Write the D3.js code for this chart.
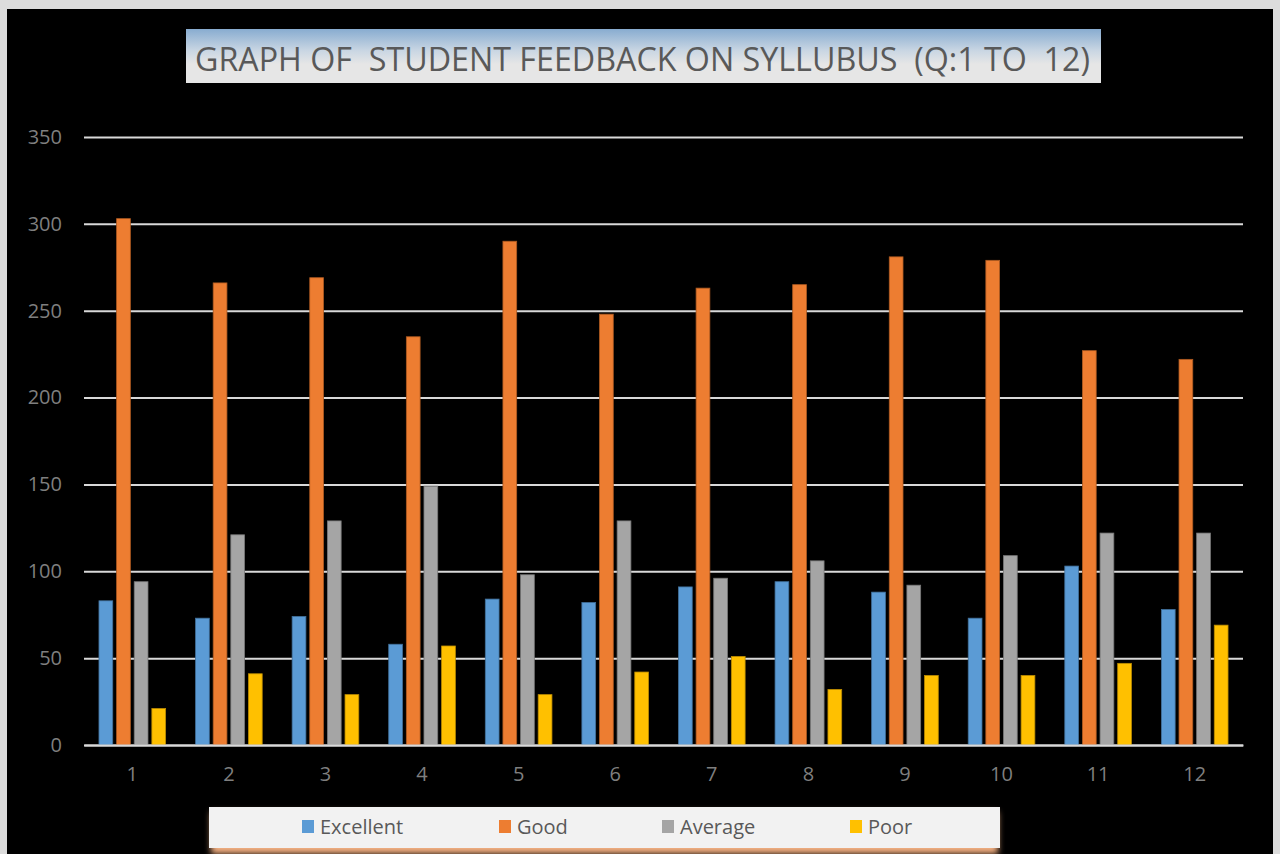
<!DOCTYPE html>
<html>
<head>
<meta charset="utf-8">
<script src="https://cdn.jsdelivr.net/npm/d3@7"></script>
<style>
  body { margin: 0; background: #e4e4e4; }
  svg { display: block; }
</style>
</head>
<body>
<svg id="graf1"></svg>
<script>
let preguntas = ['1','2','3','4','5','6','7','8','9','10','11','12']
let series = ['Excellent', 'Good', 'Average', 'Poor']
let excellent = [83, 73, 74, 58, 84, 82, 91, 94, 88, 73, 103, 78]
let good = [303, 266, 269, 235, 290, 248, 263, 265, 281, 279, 227, 222]
let average = [94, 121, 129, 149, 98, 129, 96, 106, 92, 109, 122, 122]
let poor = [21, 41, 29, 57, 29, 42, 51, 32, 40, 40, 47, 69]
let yTicks = [0, 50, 100, 150, 200, 250, 300, 350]
let titulo = 'GRAPH OF  STUDENT FEEDBACK ON SYLLUBUS  (Q:1 TO  12)'

let colores = ['#5b9bd5', '#ed7d31', '#a5a5a5', '#ffc000']
let bordes = ['#41719c', '#ae5a21', '#787878', '#bc8c00']

function graficar() {
  let w = 1280
  let h = 854
  let svg = d3.select('#graf1')
              .attr('width', w)
              .attr('height', h)

  let defs = svg.append('defs')
  let g1 = defs.append('linearGradient').attr('id', 'gradTitulo')
    .attr('x1', 0).attr('y1', 0).attr('x2', 0).attr('y2', 1)
  g1.append('stop').attr('offset', '0%').attr('stop-color', '#88acd0')
  g1.append('stop').attr('offset', '40%').attr('stop-color', '#c9d6e3')
  g1.append('stop').attr('offset', '65%').attr('stop-color', '#e6e6e6')
  g1.append('stop').attr('offset', '100%').attr('stop-color', '#e6e6e6')
  let f = defs.append('filter').attr('id', 'sombra')
    .attr('x', '-5%').attr('y', '-20%').attr('width', '110%').attr('height', '160%')
  f.append('feGaussianBlur').attr('stdDeviation', 3)

  // fondo
  svg.append('rect').attr('x', 0).attr('y', 0).attr('width', w).attr('height', h)
    .style('fill', '#dcdcdc')
  svg.append('rect').attr('x', 7).attr('y', 9).attr('width', 1266).attr('height', 845)
    .style('fill', '#000')

  // titulo
  svg.append('rect').attr('x', 186).attr('y', 29).attr('width', 915).attr('height', 54)
    .style('fill', 'url(#gradTitulo)')
  svg.append('text')
    .attr('x', 195).attr('y', 71)
    .attr('textLength', 895).attr('lengthAdjust', 'spacingAndGlyphs')
    .style('font-family', '"Open Sans", sans-serif')
    .style('font-size', '33px')
    .style('fill', '#595959')
    .style('white-space', 'pre')
    .text(titulo)

  let x0 = d3.scaleBand().domain(preguntas).range([84, 1243]).padding(0)
  let x1 = d3.scaleBand().domain(series)
    .range([x0.bandwidth() * 0.155, x0.bandwidth() * 0.845])
    .paddingInner(0.22)
  let y = d3.scaleLinear().domain([0, 350]).range([745, 137])

  // lineas de la grilla
  let ejeY = d3.axisLeft(y).tickValues(yTicks).tickSize(-(1243 - 84)).tickPadding(22)
  let gy = svg.append('g').attr('transform', 'translate(84,0)').call(ejeY)
  gy.select('.domain').remove()
  gy.selectAll('line').style('stroke', '#d9d9d9').style('stroke-width', 2)
  gy.selectAll('text')
    .style('font-family', '"Open Sans", sans-serif')
    .style('font-size', '20px')
    .style('fill', '#7f7f7f')

  let datos = preguntas.map((p, i) => ({
    p: p,
    vals: [excellent[i], good[i], average[i], poor[i]]
  }))

  let grupos = svg.selectAll('g.grupo')
    .data(datos)
    .enter()
    .append('g')
    .attr('class', 'grupo')
    .attr('transform', d => 'translate(' + x0(d.p) + ',0)')

  grupos.selectAll('rect')
    .data(d => d.vals.map((v, k) => ({ s: series[k], v: v, k: k })))
    .enter()
    .append('rect')
    .attr('x', d => x1(d.s))
    .attr('width', x1.bandwidth())
    .attr('y', d => y(d.v))
    .attr('height', d => y(0) - y(d.v))
    .style('fill', d => colores[d.k])
    .style('stroke', d => bordes[d.k])
    .style('stroke-width', 0.8)

  // eje x
  let ejeX = d3.axisBottom(x0).tickSize(0).tickPadding(22)
  let gx = svg.append('g').attr('transform', 'translate(0,745)').call(ejeX)
  gx.select('.domain').style('stroke', '#d9d9d9').style('stroke-width', 2)
  gx.selectAll('text')
    .style('font-family', '"Open Sans", sans-serif')
    .style('font-size', '20px')
    .style('fill', '#7f7f7f')

  // leyenda
  svg.append('rect').attr('x', 211).attr('y', 812).attr('width', 787).attr('height', 42)
    .style('fill', '#f4b183').attr('filter', 'url(#sombra)')
  svg.append('rect').attr('x', 209).attr('y', 807).attr('width', 791).attr('height', 41)
    .style('fill', '#f2f2f2')

  let legX = [302, 499, 662, 850]
  let leg = svg.selectAll('g.leg')
    .data(series)
    .enter()
    .append('g')
    .attr('class', 'leg')
    .attr('transform', (d, i) => 'translate(' + legX[i] + ',820)')
  leg.append('rect')
    .attr('width', 12).attr('height', 13)
    .style('fill', (d, i) => colores[i])
  leg.append('text')
    .attr('x', 18).attr('y', 14)
    .style('font-family', '"Open Sans", sans-serif')
    .style('font-size', '20px')
    .style('fill', '#595959')
    .text(d => d)
}

graficar()
</script>
</body>
</html>
